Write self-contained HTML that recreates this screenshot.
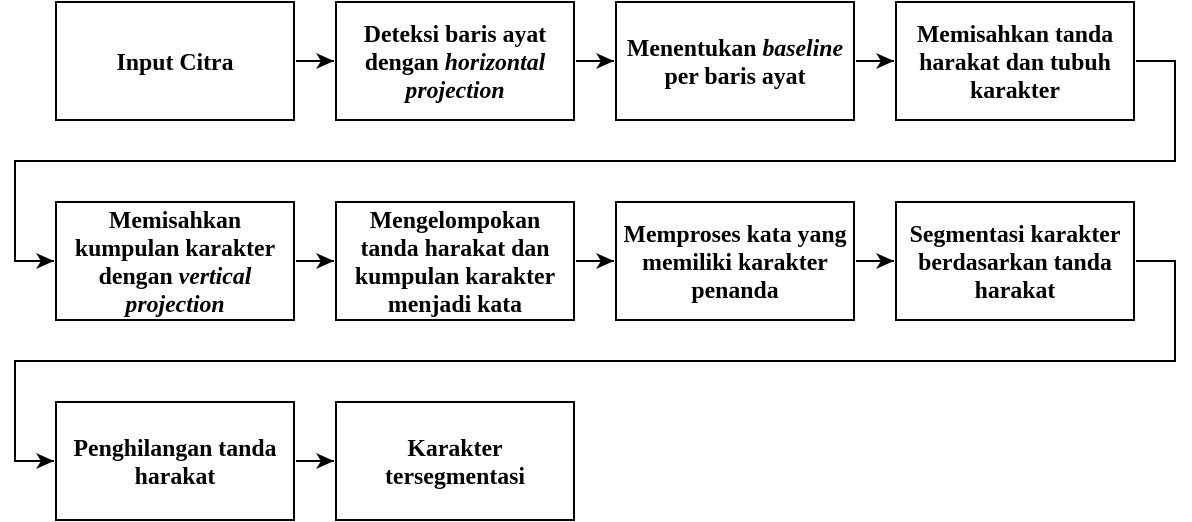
<!DOCTYPE html>
<html><head><meta charset="utf-8"><style>
body{margin:0;width:1192px;height:522px;background:#fff;position:relative;overflow:hidden}
.b{position:absolute;width:236px;height:112px;padding-top:4px;border:2px solid #000;display:flex;align-items:center;justify-content:center;text-align:center;font-family:"Liberation Serif",serif;font-weight:bold;font-size:23.8px;line-height:28px;box-sizing:content-box}
.b span{display:block}
svg{position:absolute;left:0;top:0}
</style></head><body>
<svg width="1192" height="522">
<defs><marker id="a" markerWidth="20" markerHeight="16" refX="18" refY="8" orient="auto" markerUnits="userSpaceOnUse"><path d="M0,0 L18,8 L0,16 L5,8 Z" fill="#000"/></marker></defs>
<g stroke="#000" stroke-width="2" fill="none">
<path d="M296 61H334" marker-end="url(#a)"/>
<path d="M576 61H614" marker-end="url(#a)"/>
<path d="M856 61H894" marker-end="url(#a)"/>
<path d="M1136 61H1175V161H15V261H54" marker-end="url(#a)"/>
<path d="M296 261H334" marker-end="url(#a)"/>
<path d="M576 261H614" marker-end="url(#a)"/>
<path d="M856 261H894" marker-end="url(#a)"/>
<path d="M1136 261H1175V361H15V461H54" marker-end="url(#a)"/>
<path d="M296 461H334" marker-end="url(#a)"/>
</g></svg>
<div class="b" style="left:55px;top:1px"><span>Input Citra</span></div>
<div class="b" style="left:335px;top:1px"><span>Deteksi baris ayat<br>dengan <i>horizontal</i><br><i>projection</i></span></div>
<div class="b" style="left:615px;top:1px"><span>Menentukan <i>baseline</i><br>per baris ayat</span></div>
<div class="b" style="left:895px;top:1px"><span>Memisahkan tanda<br>harakat dan tubuh<br>karakter</span></div>
<div class="b" style="left:55px;top:201px"><span>Memisahkan<br>kumpulan karakter<br>dengan <i>vertical</i><br><i>projection</i></span></div>
<div class="b" style="left:335px;top:201px"><span>Mengelompokan<br>tanda harakat dan<br>kumpulan karakter<br>menjadi kata</span></div>
<div class="b" style="left:615px;top:201px"><span>Memproses kata yang<br>memiliki karakter<br>penanda</span></div>
<div class="b" style="left:895px;top:201px"><span>Segmentasi karakter<br>berdasarkan tanda<br>harakat</span></div>
<div class="b" style="left:55px;top:401px"><span>Penghilangan tanda<br>harakat</span></div>
<div class="b" style="left:335px;top:401px"><span>Karakter<br>tersegmentasi</span></div>
</body></html>
